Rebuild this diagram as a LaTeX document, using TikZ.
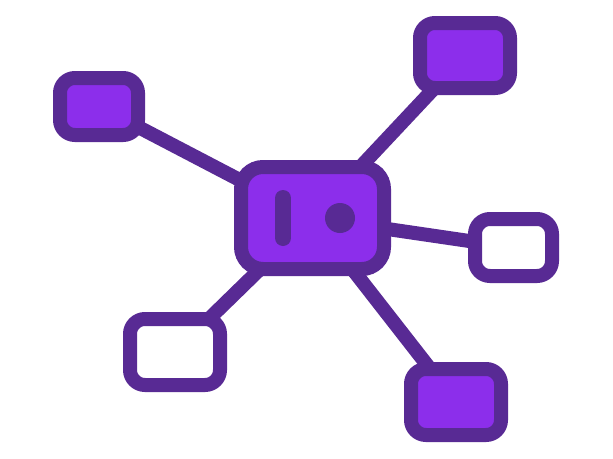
\documentclass[tikz,border=0pt]{standalone}
\usetikzlibrary{backgrounds}
\definecolor{dk}{HTML}{582A94}
\definecolor{vi}{HTML}{8C2EEB}
\begin{document}
\begin{tikzpicture}[x=1pt,y=-1pt,
  box/.style={draw=dk, line width=14pt, rectangle, rounded corners=15pt, inner sep=0pt},
  full/.style={box, fill=vi},
  empty/.style={box, fill=white},
  link/.style={draw=dk, line width=14pt}]
\useasboundingbox (0,0) rectangle (613,458);
\node[full, rounded corners=22pt, minimum width=143pt, minimum height=102pt] (c) at (312.5,218) {};
\node[full, minimum width=78pt, minimum height=57pt] (tl) at (99,106.5) {};
\node[full, minimum width=90pt, minimum height=65pt] (tr) at (465,55.5) {};
\node[empty, minimum width=77pt, minimum height=57pt] (r) at (513.5,247.5) {};
\node[empty, minimum width=90pt, minimum height=66pt] (bl) at (175,352) {};
\node[full, minimum width=90pt, minimum height=66pt] (br) at (456,402) {};
\begin{scope}[on background layer]
\fill[white] (0,0) rectangle (613,458);
\foreach \n in {tl,tr,r,bl,br} \draw[link] (c.center) -- (\n.center);
\end{scope}
\coordinate (bartop) at (283,198);
\coordinate (barbot) at (283,238);
\draw[dk, line width=16pt, line cap=round] (bartop) -- (barbot);
\fill[dk] (340,218) circle (15pt);
\end{tikzpicture}
\end{document}
